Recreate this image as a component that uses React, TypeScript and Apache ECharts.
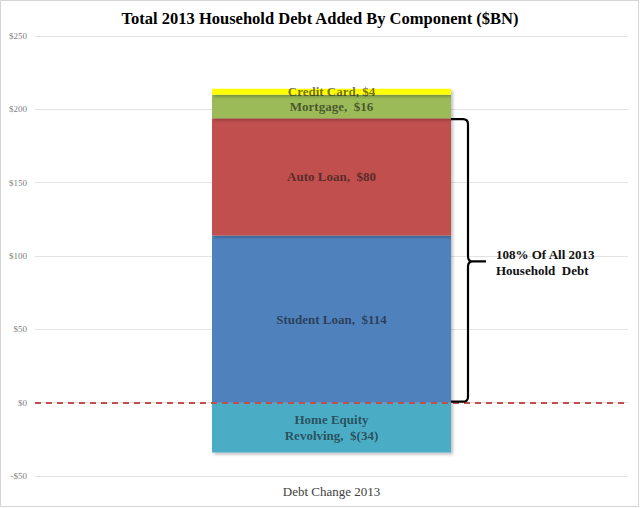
import React, { useEffect, useRef } from "react";
import * as echarts from "echarts";

const categories = ["Debt Change 2013"];
const seriesNames = ["Home Equity Revolving", "Student Loan", "Auto Loan", "Mortgage", "Credit Card"];
const homeEquity = [-34];
const studentLoan = [114];
const autoLoan = [80];
const mortgage = [16];
const creditCard = [4];
const barLabels = [
  "Home Equity\nRevolving,  $(34)",
  "Student Loan,  $114",
  "Auto Loan,  $80",
  "Mortgage,  $16",
  "Credit Card, $4",
];
const colors = ["#4BACC6", "#4F81BD", "#C0504D", "#9BBB59", "#FFFF00"];
const bracketText = "108% Of All 2013\nHousehold  Debt";
const serif = "'Liberation Serif', 'DejaVu Serif', serif";

export default function App() {
  const ref = useRef<HTMLDivElement>(null);
  useEffect(() => {
    document.body.style.margin = "0";
    if (!ref.current) return;
    const chart = echarts.init(ref.current, undefined, { renderer: "svg" });
    const datas = [homeEquity, studentLoan, autoLoan, mortgage, creditCard];
    const series: any[] = datas.map((d, i) => ({
      name: seriesNames[i],
      type: "bar",
      stack: "total",
      data: d,
      barWidth: 239,
      itemStyle: {
        color: colors[i],
        shadowColor: "rgba(0,0,0,0.25)",
        shadowBlur: 3,
        shadowOffsetX: 2,
        shadowOffsetY: 2,
      },
      label: {
        show: true,
        position: "inside",
        formatter: barLabels[i],
        color: "rgba(20,20,20,0.62)",
        fontFamily: serif,
        fontSize: 13,
        fontWeight: "bold",
        lineHeight: 16,
      },
    }));
    series[0].markLine = {
      silent: true,
      symbol: "none",
      label: { show: false },
      lineStyle: { color: "#C0504D", type: [6, 5], width: 2 },
      data: [{ yAxis: 0 }],
    };
    series[0].z = 3;
    chart.setOption({
      animation: false,
      title: {
        text: "Total 2013 Household Debt Added By Component ($BN)",
        left: "center",
        top: 5,
        textStyle: { fontFamily: serif, fontSize: 16.5, fontWeight: "bold", color: "#000" },
      },
      grid: { left: 35, right: 12, top: 36, bottom: 32 },
      xAxis: {
        type: "category",
        data: categories,
        axisLine: { show: false },
        axisTick: { show: false },
        axisLabel: { color: "#404040", fontFamily: serif, fontSize: 13, margin: 9 },
      },
      yAxis: {
        type: "value",
        min: -50,
        max: 250,
        interval: 50,
        axisLine: { show: false },
        axisTick: { show: false },
        splitLine: { lineStyle: { color: "#e3e3e3", width: 1 } },
        axisLabel: {
          color: "#7f7f7f",
          fontFamily: serif,
          fontSize: 9,
          margin: 8,
          formatter: (v: number) => (v < 0 ? "-$" + Math.abs(v) : "$" + v),
        },
      },
      series,
    });

    // Bracket computed from axis scale
    const total = studentLoan[0] + autoLoan[0];
    const yTop = chart.convertToPixel({ yAxisIndex: 0 }, total) as number;
    const yBot = chart.convertToPixel({ yAxisIndex: 0 }, 0) as number;
    const xc = chart.convertToPixel({ xAxisIndex: 0 }, categories[0]) as number;
    const left = xc + 239 / 2;
    const x = left + 17;
    const mid = (yTop + yBot) / 2 + 1;
    const tip = x + 18;
    const r = 5;
    const d =
      `M${left} ${yTop + 1} L${x - r} ${yTop + 1} Q${x} ${yTop + 1} ${x} ${yTop + 1 + r} ` +
      `L${x} ${mid - r} Q${x} ${mid} ${x + r} ${mid} L${tip} ${mid} ` +
      `M${x + r} ${mid} Q${x} ${mid} ${x} ${mid + r} ` +
      `L${x} ${yBot - 1 - r} Q${x} ${yBot - 1} ${x - r} ${yBot - 1} L${left} ${yBot - 1}`;
    echarts.graphic.registerShape("brace", echarts.graphic.extendPath(d, {}));
    chart.setOption({
      graphic: [
        {
          type: "brace",
          x: 0,
          y: 0,
          z: 100,
          style: { stroke: "#000", lineWidth: 2.2, fill: "none" },
        },
        {
          type: "text",
          x: tip + 10,
          y: mid - 15,
          z: 100,
          style: {
            text: bracketText,
            font: `bold 13px ${serif}`,
            fill: "#111",
            lineHeight: 16,
          },
        },
        {
          type: "rect",
          shape: { x: 0.5, y: 0.5, width: 638, height: 506 },
          style: { stroke: "#d4d4d4", fill: "none", lineWidth: 1 },
          silent: true,
          z: 0,
        },
      ],
    });
    return () => chart.dispose();
  }, []);
  return <div ref={ref} style={{ width: 640, height: 508 }} />;
}
